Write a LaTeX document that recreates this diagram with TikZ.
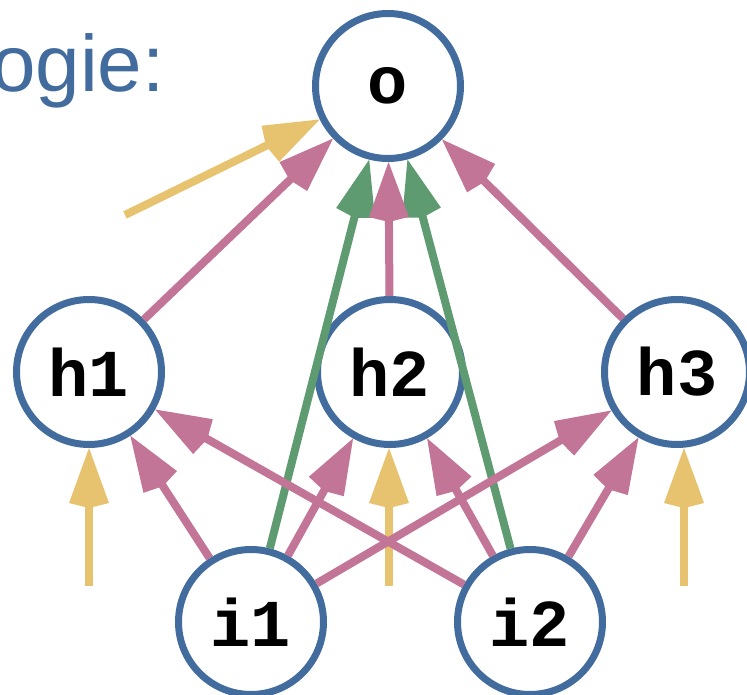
\documentclass[tikz,border=0pt]{standalone}
\usepackage{fontspec}
\setmainfont{Liberation Sans}
\setmonofont{Liberation Mono}
\usetikzlibrary{arrows.meta}
\definecolor{ringblue}{RGB}{66,108,158}
\definecolor{wpink}{RGB}{194,117,150}
\definecolor{wgreen}{RGB}{94,155,112}
\definecolor{wyellow}{RGB}{232,195,111}

\begin{document}
\begin{tikzpicture}[x=1pt,y=-1pt,
  neuron/.style={circle, draw=ringblue, line width=7pt, fill=white,
    minimum size=145pt, inner sep=0pt,
    font=\fontsize{67}{67}\selectfont\ttfamily\bfseries},
  link/.style={line width=8pt, -{Kite[length=60pt,width=40pt,inset=5pt]}},
  pinklink/.style={link, draw=wpink, fill=wpink},
  greenlink/.style={link, draw=wgreen, fill=wgreen},
  biaslink/.style={link, draw=wyellow, fill=wyellow}]
\useasboundingbox (0,0) rectangle (747,695);

% heading (runs off the left edge)
\node[anchor=base west, inner sep=0pt, text=ringblue,
  font=\fontsize{80}{80}\selectfont] (title) at (-9,92) {ogie:};

% neurons
\node[neuron] (o)  at (388,86)  {o};
\node[neuron] (h1) at (89,372)  {h1};
\node[neuron] (h2) at (390,372) {h2};
\node[neuron] (h3) at (677,372) {h3};
\node[neuron] (i1) at (251,622) {i1};
\node[neuron] (i2) at (530,622) {i2};

% bias inputs
\coordinate (bo)  at (125,215);
\coordinate (bh1) at (89,586);
\coordinate (bh2) at (389,586);
\coordinate (bh3) at (684,586);
\draw[biaslink] (bo) -- (o);
\draw[biaslink] (bh1) -- (bh1 |- h1.south);
\draw[biaslink] (bh2) -- (bh2 |- h2.south);
\draw[biaslink] (bh3) -- (bh3 |- h3.south);

% direct input-to-output weights
\draw[greenlink] (i1) -- (o);
\draw[greenlink] (i2) -- (o);

% input-to-hidden and hidden-to-output weights
\draw[pinklink] (i1) -- (h1);
\draw[pinklink] (i1) -- (h2);
\draw[pinklink] (i1) -- (h3);
\draw[pinklink] (i2) -- (h1);
\draw[pinklink] (i2) -- (h2);
\draw[pinklink] (i2) -- (h3);
\draw[pinklink] (h1) -- (o);
\draw[pinklink] (h2) -- (o);
\draw[pinklink] (h3) -- (o);
\end{tikzpicture}
\end{document}
